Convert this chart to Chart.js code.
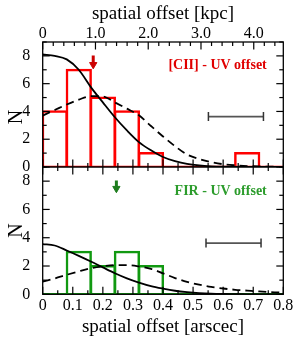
<!DOCTYPE html>
<html>
<head>
<meta charset="utf-8">
<script src="https://cdn.jsdelivr.net/npm/chart.js@4.4.1/dist/chart.umd.min.js"></script>
<style>
  html, body { margin: 0; padding: 0; background: #fff; }
  #wrap { width: 299px; height: 343px; }
</style>
</head>
<body>
<div id="wrap"><canvas id="c" width="299" height="343"></canvas></div>
<script>
// ---------------------------------------------------------------
//  values
// ---------------------------------------------------------------
const binEdges  = [0, 0.08, 0.16, 0.24, 0.32, 0.40, 0.48, 0.56, 0.64, 0.72, 0.80];
const ciiCounts = [4, 7, 5, 4, 1, 0, 0, 0, 1, 0];
const firCounts = [0, 3, 2, 3, 2, 0, 0, 0, 0, 0];

const curveX    = [0, 0.04, 0.08, 0.12, 0.16, 0.20, 0.24, 0.28, 0.32, 0.36, 0.40,
                   0.44, 0.48, 0.52, 0.56, 0.60, 0.64, 0.68, 0.72, 0.76, 0.80];
const ciiSolid  = [8.1, 8.0, 7.75, 7.0, 5.75, 4.65, 3.58, 2.63, 1.79, 1.2, 0.72,
                   0.42, 0.22, 0.11, 0.05, 0.02, 0.01, 0, 0, 0, 0];
const ciiDashed = [3.7, 4.1, 4.5, 4.85, 5.1, 5.08, 4.65, 4.2, 3.72, 2.95, 2.2,
                   1.5, 0.9, 0.58, 0.35, 0.2, 0.12, 0.07, 0.04, 0.02, 0.01];
const firSolid  = [3.55, 3.45, 3.1, 2.72, 2.32, 1.9, 1.49, 1.13, 0.83, 0.58, 0.4,
                   0.25, 0.15, 0.08, 0.04, 0.02, 0.01, 0, 0, 0, 0];
const firDashed = [0.9, 1.12, 1.38, 1.62, 1.84, 1.98, 2.06, 2.06, 1.97, 1.8, 1.48,
                   1.15, 0.88, 0.68, 0.52, 0.41, 0.32, 0.26, 0.2, 0.15, 0.12];

const arcsecRange  = [0, 0.8];
const kpcAxisMax   = 4.56;
const arcsecLabels = ["0", "0.1", "0.2", "0.3", "0.4", "0.5", "0.6", "0.7", "0.8"];
const kpcLabels    = ["0", "1.0", "2.0", "3.0", "4.0"];
const nLabels      = ["0", "2", "4", "6", "8"];

// error bars (typical uncertainty) and median arrows
const ciiErrX = [0.551, 0.734];
const firErrX = [0.543, 0.726];
const errY    = [3.63, 3.62];
const arrowX    = [0.168, 0.245];
const arrowTop  = [8.02, 8.05];
const arrowHead = [7.37, 7.48];

const panelLabels = ["[CII] - UV offset", "FIR - UV offset"];

const SERIF = "'Liberation Serif', 'Times New Roman', serif";
const RED = "#ff0000", GREEN = "#119911";

// ---------------------------------------------------------------
//  helpers
// ---------------------------------------------------------------
function histData(counts) {
    return counts.map((n, i) => ({ x: (binEdges[i] + binEdges[i + 1]) / 2, y: n }))
                 .filter(p => p.y > 0);
}
function curve(ys) {
    return curveX.map((x, i) => ({ x: x, y: ys[i] }));
}
function barSet(counts, color, yAxisID) {
    return {
        type: "bar", data: histData(counts), xAxisID: "x", yAxisID: yAxisID,
        backgroundColor: "rgba(0,0,0,0)", borderColor: color,
        borderWidth: 0.3, inflateAmount: 1.1, borderSkipped: "start",
        barPercentage: 1, categoryPercentage: 1, grouped: false, order: 3
    };
}
function lineSet(data, color, yAxisID, extra) {
    return Object.assign({
        type: "line", data: data, xAxisID: "x", yAxisID: yAxisID,
        borderColor: color, borderWidth: 1.8, pointRadius: 0, fill: false, order: 1
    }, extra || {});
}
function errSet(xs, y, yAxisID) {
    return lineSet(xs.map(x => ({ x: x, y: y })), "#555", yAxisID, {
        pointStyle: "line", rotation: 90, pointRadius: 4.5,
        pointBorderColor: "#333", pointBorderWidth: 1.5
    });
}
function arrowSets(i, color, yAxisID) {
    return [
        lineSet([{ x: arrowX[i], y: arrowTop[i] }, { x: arrowX[i], y: arrowHead[i] }], color, yAxisID,
                { borderWidth: 3 }),
        lineSet([{ x: arrowX[i], y: arrowHead[i] }], color, yAxisID, {
            showLine: false, pointStyle: "triangle", rotation: 180, pointRadius: 4.2,
            pointBackgroundColor: color, pointBorderColor: color, pointBorderWidth: 1
        })
    ];
}

// ---------------------------------------------------------------
//  frame, inward ticks and in-panel text
// ---------------------------------------------------------------
const decor = {
    id: "decor",
    afterDatasetsDraw(chart) {
        const { ctx, chartArea: a, scales } = chart;
        const x = scales.x, xk = scales.xk, yt = scales.yTop, yb = scales.yBot;
        const mid = yt.bottom;
        const seg = (x1, y1, x2, y2) => { ctx.beginPath(); ctx.moveTo(x1, y1); ctx.lineTo(x2, y2); ctx.stroke(); };

        ctx.save();
        ctx.strokeStyle = "#000";
        ctx.lineWidth = 1.3;
        ctx.strokeRect(a.left, a.top, a.right - a.left, a.bottom - a.top);
        seg(a.left, mid, a.right, mid);

        ctx.lineWidth = 1.2;
        // arcsec ticks: middle line (both panels) and bottom
        for (let i = 0; i <= 16; i++) {
            const px = x.getPixelForValue(i * 0.05);
            const len = i % 2 === 0 ? 7.5 : 4;
            seg(px, mid, px, mid - len);
            seg(px, mid, px, mid + len);
            seg(px, a.bottom, px, a.bottom - len);
        }
        // kpc ticks on top
        for (let i = 0; i <= 22; i++) {
            const px = xk.getPixelForValue(i * 0.2);
            if (px > a.right) break;
            const len = i % 5 === 0 ? 7.5 : 4;
            seg(px, a.top, px, a.top + len);
        }
        // N ticks on both sides of both panels
        [yt, yb].forEach(s => {
            for (let v = 0; v <= 9; v++) {
                const py = s.getPixelForValue(v);
                const len = v % 2 === 0 ? 7 : 4;
                seg(a.left, py, a.left + len, py);
                seg(a.right, py, a.right - len, py);
            }
        });

        // y titles
        ctx.fillStyle = "#000";
        ctx.font = "20px " + SERIF;
        ctx.textAlign = "center";
        ctx.textBaseline = "middle";
        [[yt, 3.6], [yb, 4.5]].forEach(([s, v]) => {
            ctx.save();
            ctx.translate(16.5, s.getPixelForValue(v));
            ctx.rotate(-Math.PI / 2);
            ctx.fillText("N", 0, 0);
            ctx.restore();
        });

        // panel labels
        ctx.font = "bold 14px " + SERIF;
        ctx.textAlign = "right";
        ctx.fillStyle = "#e00000";
        ctx.fillText(panelLabels[0], x.getPixelForValue(0.745), yt.getPixelForValue(7.28));
        ctx.fillStyle = "#2c9c2c";
        ctx.fillText(panelLabels[1], x.getPixelForValue(0.745), yb.getPixelForValue(7.29));
        ctx.restore();
    }
};

// ---------------------------------------------------------------
//  chart
// ---------------------------------------------------------------
const tickFont = { family: SERIF, size: 16 };
const titleFont = { family: SERIF, size: 19 };

function panelAxis(weight) {
    return {
        type: "linear", position: "left", stack: "panels", stackWeight: weight,
        min: 0, max: 9,
        grid: { display: false }, border: { display: false },
        ticks: { stepSize: 2, includeBounds: false, autoSkip: false, padding: 4.4, color: "#000",
                 font: tickFont, callback: (v, i) => nLabels[i] },
        afterFit: s => { s.width = 42.7; }
    };
}

new Chart(document.getElementById("c"), {
    type: "bar",
    data: {
        datasets: [
            barSet(ciiCounts, RED, "yTop"),
            lineSet(arcsecRange.map(v => ({ x: v, y: 0 })), RED, "yTop", { borderWidth: 2.4, order: 2 }),
            lineSet(curve(ciiSolid), "#000", "yTop", { tension: 0.4, cubicInterpolationMode: "monotone" }),
            lineSet(curve(ciiDashed), "#000", "yTop", { tension: 0.4, cubicInterpolationMode: "monotone", borderDash: [8, 5] }),
            errSet(ciiErrX, errY[0], "yTop"),
            ...arrowSets(0, "#cc0000", "yTop"),

            barSet(firCounts, GREEN, "yBot"),
            lineSet(arcsecRange.map(v => ({ x: v, y: 0 })), GREEN, "yBot", { borderWidth: 2.4, order: 2 }),
            lineSet(curve(firSolid), "#000", "yBot", { tension: 0.4, cubicInterpolationMode: "monotone" }),
            lineSet(curve(firDashed), "#000", "yBot", { tension: 0.4, cubicInterpolationMode: "monotone", borderDash: [8, 5] }),
            errSet(firErrX, errY[1], "yBot"),
            ...arrowSets(1, "#1e7d1e", "yBot")
        ]
    },
    options: {
        responsive: false,
        animation: false,
        devicePixelRatio: 1,
        layout: { padding: { left: 0, right: 15.7, top: 0, bottom: 0 } },
        plugins: { legend: { display: false }, tooltip: { enabled: false } },
        scales: {
            x: {
                type: "linear", position: "bottom", min: arcsecRange[0], max: arcsecRange[1], offset: false,
                grid: { display: false }, border: { display: false },
                ticks: { stepSize: 0.1, includeBounds: false, padding: -6.2, maxRotation: 0, autoSkip: false,
                         color: "#000", font: tickFont, callback: (v, i) => arcsecLabels[i] },
                title: { display: true, text: "spatial offset [arscec]", color: "#000", font: titleFont,
                         padding: { top: 0, bottom: 4.4 } },
                afterFit: s => { s.height = 48.7; }
            },
            xk: {
                type: "linear", position: "top", min: 0, max: kpcAxisMax, offset: false,
                grid: { display: false }, border: { display: false },
                ticks: { stepSize: 1, includeBounds: false, padding: -9.6, maxRotation: 0, autoSkip: false,
                         color: "#000", font: tickFont, callback: (v, i) => kpcLabels[i] },
                title: { display: true, text: "spatial offset [kpc]", color: "#000", font: titleFont,
                         padding: { top: 2.9, bottom: 0 } },
                afterFit: s => { s.height = 42; }
            },
            // stacked panels: the scale listed last is placed on top
            yBot: panelAxis(127.3),
            yTop: panelAxis(125)
        }
    },
    plugins: [decor]
});
</script>
</body>
</html>
